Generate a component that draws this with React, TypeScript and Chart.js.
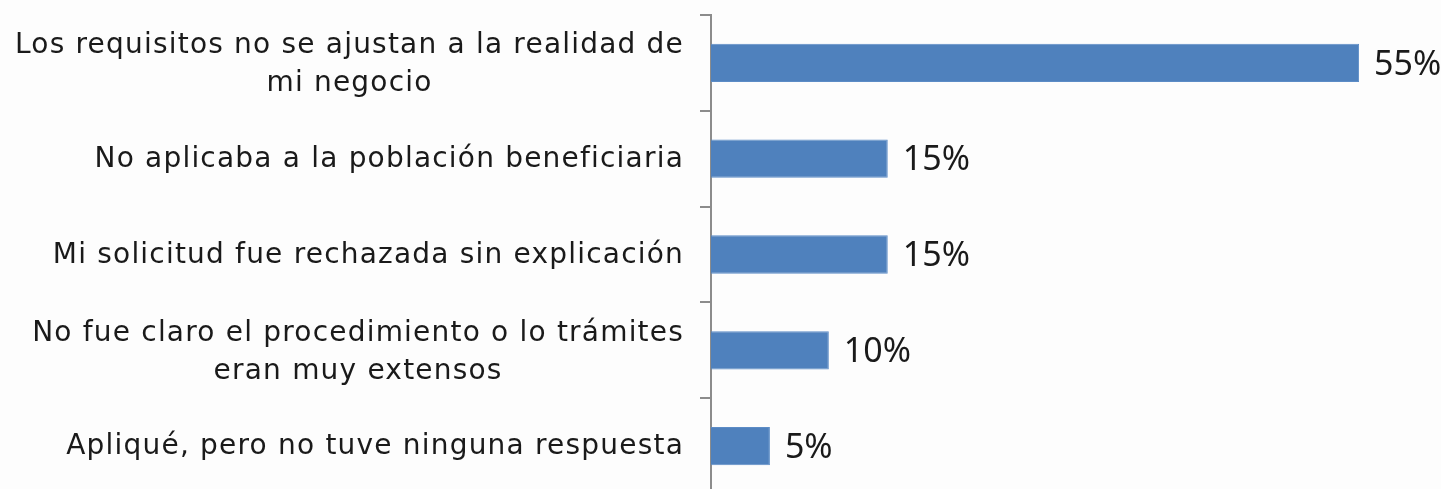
import React, { useEffect, useRef } from "react";
import { Chart, registerables } from "chart.js";

Chart.register(...registerables);

const categories: string[][] = [
  ["Los requisitos no se ajustan a la realidad de", "mi negocio"],
  ["No aplicaba a la población beneficiaria"],
  ["Mi solicitud fue rechazada sin explicación"],
  ["No fue claro el procedimiento o lo trámites", "eran muy extensos"],
  ["Apliqué, pero no tuve ninguna respuesta"],
];
const values: number[] = [55, 15, 15, 10, 5];
const valueLabels: string[] = ["55%", "15%", "15%", "10%", "5%"];

const LABEL_FONT = "28px 'DejaVu Sans'";
const VALUE_FONT = "34px 'Noto Sans'";

const labelPlugin = {
  id: "customLabels",
  afterDatasetsDraw(chart: any) {
    const ctx = chart.ctx;
    const yScale = chart.scales.y;
    const meta = chart.getDatasetMeta(0);
    ctx.save();
    ctx.fillStyle = "#1a1a1a";
    ctx.textBaseline = "middle";
    ctx.font = LABEL_FONT;
    (ctx as any).letterSpacing = "1.2px";
    const rightEdge = yScale.right - 11 - 16;
    const lineH = 38;
    categories.forEach((lines, i) => {
      const yc = yScale.getPixelForValue(i) + (lines.length > 1 ? 2 : 1);
      const widths = lines.map((l) => ctx.measureText(l).width);
      const blockW = Math.max(...widths);
      const cx = rightEdge - blockW / 2;
      ctx.textAlign = "center";
      lines.forEach((l, j) => {
        const y = yc + (j - (lines.length - 1) / 2) * lineH;
        ctx.fillText(l, cx, y);
      });
    });
    (ctx as any).letterSpacing = "0px";
    ctx.font = VALUE_FONT;
    ctx.textAlign = "left";
    meta.data.forEach((bar: any, i: number) => {
      ctx.fillText(valueLabels[i], bar.x + 15, bar.y + 2);
    });
    ctx.restore();
  },
};

export default function App() {
  const ref = useRef<HTMLCanvasElement | null>(null);
  useEffect(() => {
    if (!ref.current) return;
    const chart = new Chart(ref.current, {
      type: "bar",
      data: {
        labels: categories.map((c) => c.join(" ")),
        datasets: [
          {
            data: values,
            backgroundColor: "#4F81BD",
            borderColor: "#5C8CC6",
            borderWidth: 1,
            barPercentage: 0.8,
            categoryPercentage: 0.5,
          },
        ],
      },
      options: {
        indexAxis: "y",
        animation: false,
        responsive: false,
        maintainAspectRatio: false,
        layout: { padding: { top: 15, bottom: 6, left: 0, right: 23 } },
        plugins: { legend: { display: false }, tooltip: { enabled: false } },
        scales: {
          x: { display: false, min: 0, max: 60 },
          y: {
            offset: true,
            ticks: { display: false },
            grid: {
              offset: true,
              drawOnChartArea: false,
              drawTicks: true,
              tickLength: 11,
              tickColor: "#8c8c8c",
              lineWidth: 2,
            },
            border: { display: true, color: "#8c8c8c", width: 2 },
            afterFit: (scale: any) => {
              scale.width = 711;
            },
          },
        },
      },
      plugins: [labelPlugin],
    });
    return () => chart.destroy();
  }, []);
  return (
    <div style={{ position: "fixed", left: 0, top: 0, width: 1441, height: 500, background: "#fdfdfd" }}>
      <canvas ref={ref} width={1441} height={500} style={{ width: 1441, height: 500 }} />
    </div>
  );
}
